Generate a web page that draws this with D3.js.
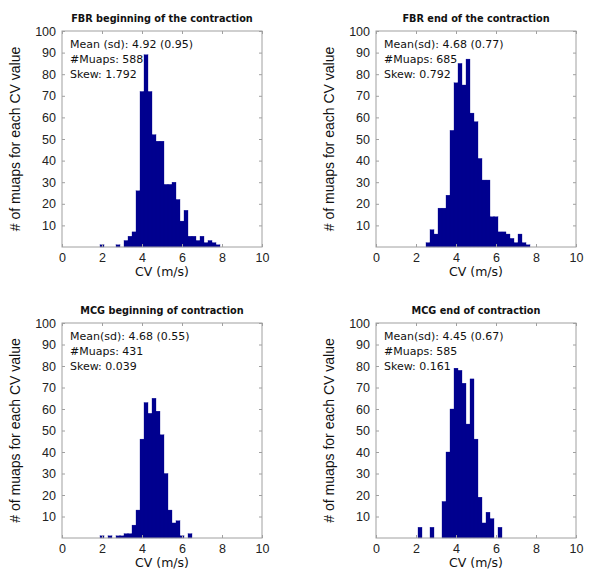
<!DOCTYPE html>
<html><head><meta charset="utf-8">
<script src="https://cdn.jsdelivr.net/npm/d3@7"></script>
<style>body{margin:0;background:#fff}</style>
</head><body>
<svg id="chart" width="600" height="580"></svg>
<script>
// ---- data ----
const titles = ["FBR beginning of the contraction", "FBR end of the contraction",
                "MCG beginning of contraction", "MCG end of contraction"];
const statLines = [
  ["Mean (sd): 4.92 (0.95)", "#Muaps: 588", "Skew: 1.792"],
  ["Mean(sd): 4.68 (0.77)", "#Muaps: 685", "Skew: 0.792"],
  ["Mean(sd): 4.68 (0.55)", "#Muaps: 431", "Skew: 0.039"],
  ["Mean(sd): 4.45 (0.67)", "#Muaps: 585", "Skew: 0.161"]
];
// bin centres (m/s), bin width 0.2
const cv1 = [2.0, 2.8, 3.2, 3.4, 3.6, 3.8, 4.0, 4.2, 4.4, 4.6, 4.8, 5.0, 5.2, 5.4, 5.6, 5.8, 6.0, 6.2, 6.4, 6.6, 6.8, 7.0, 7.2, 7.4, 7.6, 7.8];
const n1  = [1,   1,   3,   5,   7,   26,  72,  89,  72,  52,  49,  49,  29,  29,  30,  22,  12,  17,  5,   5,   3,   5,   2,   3,   2,   1];
const cv2 = [2.6, 2.8, 3.0, 3.2, 3.4, 3.6, 3.8, 4.0, 4.2, 4.4, 4.6, 4.8, 5.0, 5.2, 5.4, 5.6, 5.8, 6.0, 6.2, 6.4, 6.6, 6.8, 7.0, 7.2, 7.4, 7.6];
const n2  = [2,   8,   6,   18,  18,  24,  54,  76,  85,  75,  87,  62,  58,  41,  31,  31,  14,  14,  7,   7,   6,   4,   2,   6,   2,   1];
const cv3 = [2.0, 2.4, 2.8, 3.0, 3.2, 3.4, 3.6, 3.8, 4.0, 4.2, 4.4, 4.6, 4.8, 5.0, 5.2, 5.4, 5.6, 5.8, 6.0, 6.4];
const n3  = [1,   1,   1,   1,   2,   2,   6,   13,  46,  63,  58,  65,  59,  48,  30,  13,  7,   8,   1,   2];
const cv4 = [2.2, 2.8, 3.4, 3.6, 3.8, 4.0, 4.2, 4.4, 4.6, 4.8, 5.0, 5.2, 5.4, 5.6, 5.8, 6.2];
const n4  = [5,   5,   17,  40,  60,  79,  78,  72,  53,  74,  46,  19,  7,   12,  9,   5];
const xTicks = [0, 2, 4, 6, 8, 10];
const yTicks = [10, 20, 30, 40, 50, 60, 70, 80, 90, 100];
const xLabel = "CV (m/s)";
const yLabel = "# of muaps for each CV value";
const binWidth = 0.2;

const panels = [
  {cv: cv1, n: n1, left: 62,  top: 31,  bottom: 247},
  {cv: cv2, n: n2, left: 376, top: 31,  bottom: 247},
  {cv: cv3, n: n3, left: 62,  top: 323, bottom: 538},
  {cv: cv4, n: n4, left: 376, top: 323, bottom: 538}
];
const W = 200;
const svg = d3.select("#chart");
const boxColor = "#a0a0a0";
const barColor = "#00008f";

panels.forEach((p, i) => {
  const x = d3.scaleLinear().domain([0, 10]).range([p.left, p.left + W]);
  const y = d3.scaleLinear().domain([0, 100]).range([p.bottom, p.top]);
  const g = svg.append("g");

  // bars
  const data = p.cv.map((c, k) => ({c, v: p.n[k]}));
  g.selectAll("rect.bar").data(data).enter().append("rect")
    .attr("class", "bar")
    .attr("x", d => x(d.c - binWidth / 2))
    .attr("width", d => x(d.c + binWidth / 2) - x(d.c - binWidth / 2))
    .attr("y", d => y(d.v))
    .attr("height", d => y(0) - y(d.v))
    .attr("fill", barColor)
    .attr("stroke", barColor).attr("stroke-width", 0.3);

  // axes
  const styleAxis = sel => {
    sel.select(".domain").remove();
    sel.selectAll(".tick line").attr("stroke", boxColor);
    sel.selectAll(".tick text").attr("fill", "#222")
      .style("font-family", "'Liberation Sans', Arial, sans-serif").style("font-size", "12.5px");
  };
  g.append("g").attr("transform", `translate(${p.left},0)`)
    .call(d3.axisLeft(y).tickValues(yTicks).tickSize(-3).tickPadding(6)).call(styleAxis);
  g.append("g").attr("transform", `translate(${p.left + W},0)`)
    .call(d3.axisRight(y).tickValues(yTicks).tickSize(-3).tickFormat("")).call(styleAxis);
  g.append("g").attr("transform", `translate(0,${p.bottom})`)
    .call(d3.axisBottom(x).tickValues(xTicks).tickSize(-3).tickPadding(6)).call(styleAxis);
  g.append("g").attr("transform", `translate(0,${p.top})`)
    .call(d3.axisTop(x).tickValues(xTicks).tickSize(-3).tickFormat("")).call(styleAxis);

  // box
  g.append("rect").attr("x", p.left).attr("y", p.top)
    .attr("width", W).attr("height", p.bottom - p.top)
    .attr("fill", "none").attr("stroke", boxColor).attr("stroke-width", 1);

  // title
  g.append("text").attr("x", p.left + W / 2).attr("y", p.top - 9)
    .attr("text-anchor", "middle")
    .style("font-family", "'DejaVu Sans Condensed', 'DejaVu Sans', sans-serif")
    .style("font-weight", "bold").style("font-size", "10.8px").attr("fill", "#111")
    .text(titles[i]);

  // stats
  statLines[i].forEach((t, k) => {
    g.append("text").attr("x", p.left + 8).attr("y", p.top + 17 + k * 15)
      .style("font-family", "'DejaVu Sans', sans-serif")
      .style("font-size", "11px").attr("fill", "#111")
      .text(t);
  });

  // x label
  g.append("text").attr("x", p.left + W / 2).attr("y", p.bottom + 29)
    .attr("text-anchor", "middle")
    .style("font-family", "'DejaVu Sans', sans-serif").style("font-size", "12.5px")
    .attr("fill", "#111").text(xLabel);

  // y label
  const cy = (p.top + p.bottom) / 2;
  const lx = p.left - 42;
  g.append("text").attr("transform", `translate(${lx},${cy}) rotate(-90)`)
    .attr("text-anchor", "middle")
    .style("font-family", "'Liberation Sans', Arial, sans-serif").style("font-size", "14px")
    .attr("fill", "#111").text(yLabel);
});
</script>
</body></html>
